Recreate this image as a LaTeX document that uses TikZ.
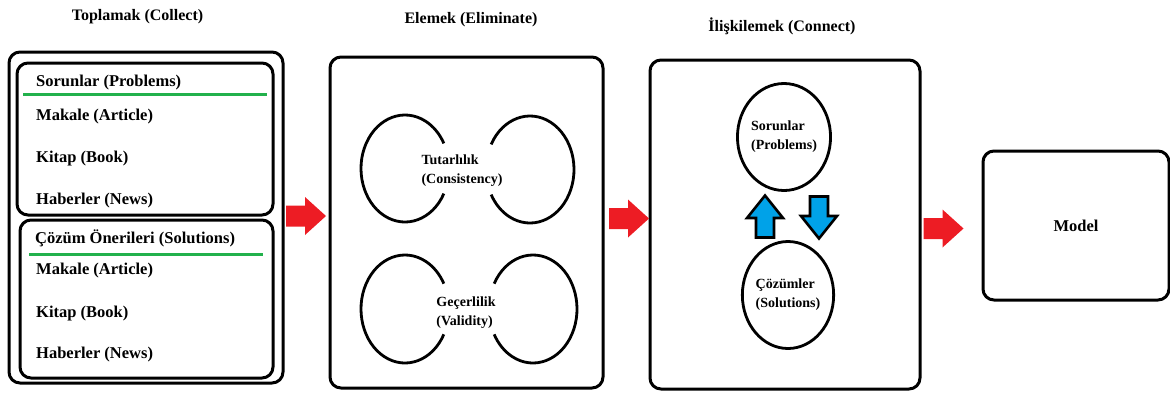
\documentclass[tikz,border=0pt]{standalone}
\usepackage{fontspec}
\setmainfont{Liberation Serif}
\usetikzlibrary{shapes.geometric}
\definecolor{arrowred}{RGB}{237,28,36}
\definecolor{paintgreen}{RGB}{34,177,76}
\definecolor{paintblue}{RGB}{0,162,232}
\tikzset{
  stagebox/.style={draw, line width=3pt, rounded corners=11pt, inner sep=0pt},
  stagetitle/.style={inner sep=0pt, font=\fontsize{16}{18}\selectfont\bfseries},
  listitem/.style={anchor=west, inner sep=0pt, font=\fontsize{16.5}{18}\selectfont\bfseries},
  bubbletext/.style={align=left, inner sep=0pt, font=\fontsize{14}{19}\selectfont\bfseries},
  bubblenode/.style={ellipse, draw, line width=2.8pt, minimum width=90pt, minimum height=107pt, bubbletext},
  greenrule/.style={draw=paintgreen, line width=3pt},
  ringarc/.style={line width=2.8pt},
  redarrow/.pic={\fill[arrowred] (-20,-10.5) -- (-1,-10.5) -- (-1,-19) -- (20,0) -- (-1,19) -- (-1,10.5) -- (-20,10.5) -- cycle;},
  bluearrow/.pic={\filldraw[fill=paintblue, line width=2.6pt, line join=miter] (0,-21) -- (18,1.5) -- (9,1.5) -- (9,21) -- (-9,21) -- (-9,1.5) -- (-18,1.5) -- cycle;}
}
\begin{document}
\begin{tikzpicture}[x=1pt,y=-1pt]
  \useasboundingbox (0,0) rectangle (1170,392);

  % titles
  \node[stagetitle] (collecttitle) at (137.5,17) {Toplamak (Collect)};
  \node[stagetitle] (elimtitle) at (471,20) {Elemek (Eliminate)};
  \node[stagetitle] (connecttitle) at (782,26) {İlişkilemek (Connect)};

  % Toplamak
  \node[stagebox, minimum width=274pt, minimum height=331pt] (collect) at (146,217.5) {};
  \node[stagebox, minimum width=256pt, minimum height=152pt] (problems) at (145,139) {};
  \node[stagebox, minimum width=253pt, minimum height=158pt] (solutions) at (146.5,299) {};
  \draw[greenrule] (23,94) -- (267,94);
  \draw[greenrule] (29,254) -- (263,254);
  \node[listitem] (ptitle) at (36,83) {Sorunlar (Problems)};
  \node[listitem] (particle) at (36,117) {Makale (Article)};
  \node[listitem] (pbook) at (36,159) {Kitap (Book)};
  \node[listitem] (pnews) at (36,201) {Haberler (News)};
  \node[listitem] (stitle) at (35,238) {Çözüm Önerileri (Solutions)};
  \node[listitem] (sarticle) at (36,271) {Makale (Article)};
  \node[listitem] (sbook) at (36,314) {Kitap (Book)};
  \node[listitem] (snews) at (36,355) {Haberler (News)};

  % Elemek
  \node[stagebox, minimum width=273pt, minimum height=331pt] (elim) at (466.5,222.5) {};
  \coordinate (tl) at (405,168.5);
  \coordinate (tr) at (530,169.5);
  \coordinate (bl) at (405,309);
  \coordinate (br) at (533,309);
  \draw[ringarc] ([shift={(28:44 and 53.5)}]tl) arc[start angle=28, end angle=332, x radius=44, y radius=53.5];
  \draw[ringarc] ([shift={(208:44 and 53.5)}]tr) arc[start angle=208, end angle=512, x radius=44, y radius=53.5];
  \draw[ringarc] ([shift={(28:44 and 54)}]bl) arc[start angle=28, end angle=332, x radius=44, y radius=54];
  \draw[ringarc] ([shift={(208:44 and 54)}]br) arc[start angle=208, end angle=512, x radius=44, y radius=54];
  \node[bubbletext] (consistency) at (462,171) {Tutarlılık\\(Consistency)};
  \node[bubbletext] (validity) at (466,313) {Geçerlilik\\(Validity)};

  % İlişkilemek
  \node[stagebox, minimum width=270pt, minimum height=329pt] (connect) at (785,224.5) {};
  \node[bubblenode] (sorun) at (784,137) {Sorunlar\\(Problems)};
  \node[bubblenode] (cozum) at (788,295) {Çözümler\\(Solutions)};
  \pic at (765,216.5) {bluearrow};
  \pic[rotate=180] at (819,217.5) {bluearrow};

  % Model
  \node[stagebox, minimum width=186pt, minimum height=149pt, font=\fontsize{16.5}{18}\selectfont\bfseries] (model) at (1076,225.5) {Model};

  % red arrows
  \pic at (306,216) {redarrow};
  \pic at (629,218.5) {redarrow};
  \pic at (943.5,228.5) {redarrow};
\end{tikzpicture}
\end{document}
